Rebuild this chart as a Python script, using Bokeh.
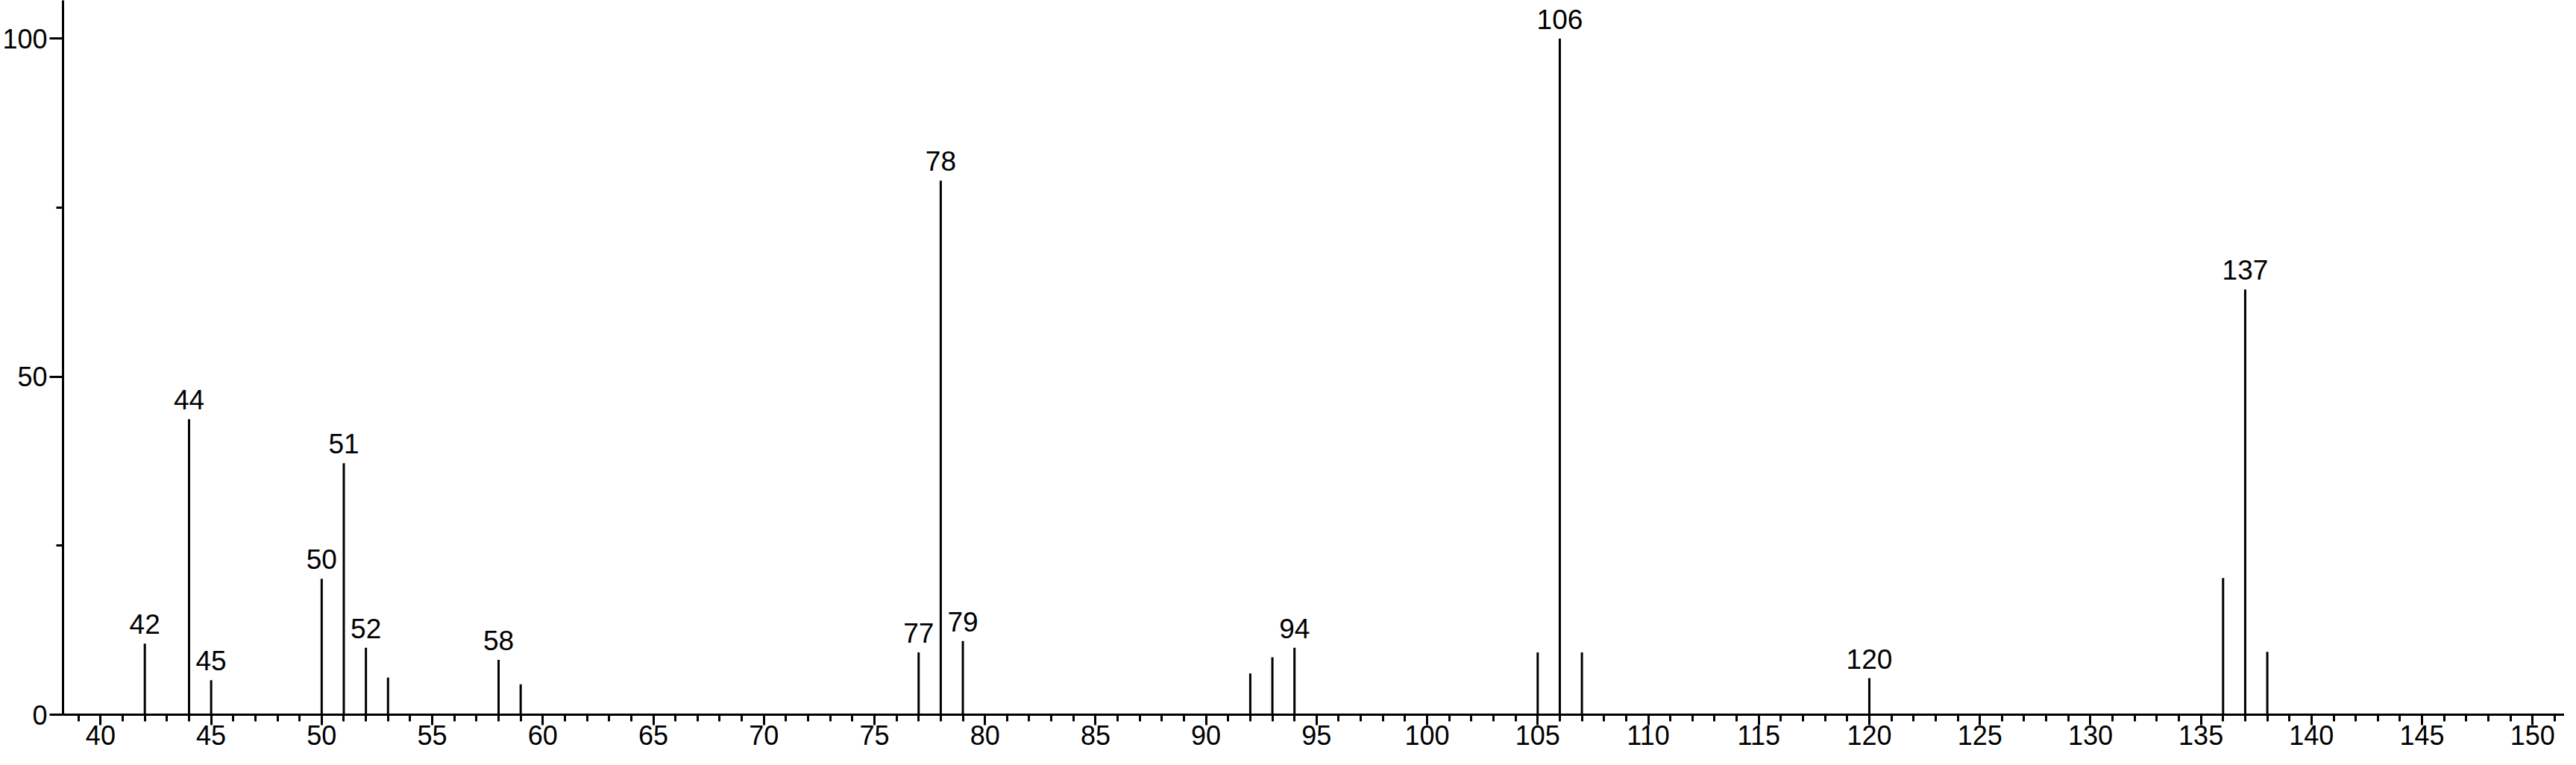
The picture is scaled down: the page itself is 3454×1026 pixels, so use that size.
from bokeh.plotting import figure
from bokeh.models import Range1d, FixedTicker, LinearAxis, ColumnDataSource
from bokeh.core.properties import value
from bokeh.embed import file_html
from bokeh.resources import INLINE

# m/z values and relative intensities of the peaks
mz = [42, 44, 45, 50, 51, 52, 53, 58, 59, 77, 78, 79, 92, 93, 94,
      105, 106, 107, 120, 136, 137, 138]
intensity = [10.5, 43.7, 5.1, 20.1, 37.2, 9.9, 5.5, 8.1, 4.5, 9.2, 79.0, 10.9,
             6.1, 8.5, 9.9, 9.2, 100.0, 9.2, 5.4, 20.2, 62.9, 9.3]
# peaks carrying a text label
labeled_mz = [42, 44, 45, 50, 51, 52, 58, 77, 78, 79, 94, 106, 120, 137]

x_major = list(range(40, 151, 5))
x_minor = list(range(39, 152))
y_major = [0, 50, 100]
y_minor = [25, 75]

FONT = "Liberation Sans"

peaks = ColumnDataSource(dict(x=mz, y0=[0] * len(mz), y1=intensity))
lab_int = [intensity[mz.index(m)] for m in labeled_mz]
labels = ColumnDataSource(dict(x=labeled_mz, y=lab_int, t=[str(m) for m in labeled_mz]))

p = figure(width=3438, height=1010, output_backend="svg", toolbar_location=None,
           x_range=Range1d(38.3, 151.44), y_range=Range1d(0, 105.66),
           x_axis_location=None, y_axis_location=None,
           min_border_left=0, min_border_right=0, min_border_top=0, min_border_bottom=52)
p.outline_line_color = None
p.grid.grid_line_color = None
p.background_fill_color = "white"
p.border_fill_color = "white"

xaxis = LinearAxis(ticker=FixedTicker(ticks=x_major, minor_ticks=x_minor))
yaxis = LinearAxis(ticker=FixedTicker(ticks=y_major, minor_ticks=y_minor))
for ax, tout, mout, so in ((xaxis, 14, 9, 0), (yaxis, 18, 9, 3)):
    ax.axis_line_width = 3
    ax.axis_line_color = "black"
    ax.major_tick_line_width = 3
    ax.minor_tick_line_width = 3
    ax.major_tick_line_color = "black"
    ax.minor_tick_line_color = "black"
    ax.major_tick_in = 0
    ax.minor_tick_in = 0
    ax.major_tick_out = tout
    ax.minor_tick_out = mout
    ax.major_label_text_font = FONT
    ax.major_label_text_font_size = "36px"
    ax.major_label_text_color = "black"
    ax.major_label_standoff = so
p.add_layout(xaxis, "below")
p.add_layout(yaxis, "left")

p.segment(x0="x", y0="y0", x1="x", y1="y1", source=peaks, line_width=3, line_color="black")
p.text(x="x", y="y", text="t", source=labels, text_align="center", text_baseline="alphabetic",
       y_offset=-26, text_font=value(FONT), text_font_size="37px", text_color="black")

open("out.html", "w").write(file_html(p, INLINE))
